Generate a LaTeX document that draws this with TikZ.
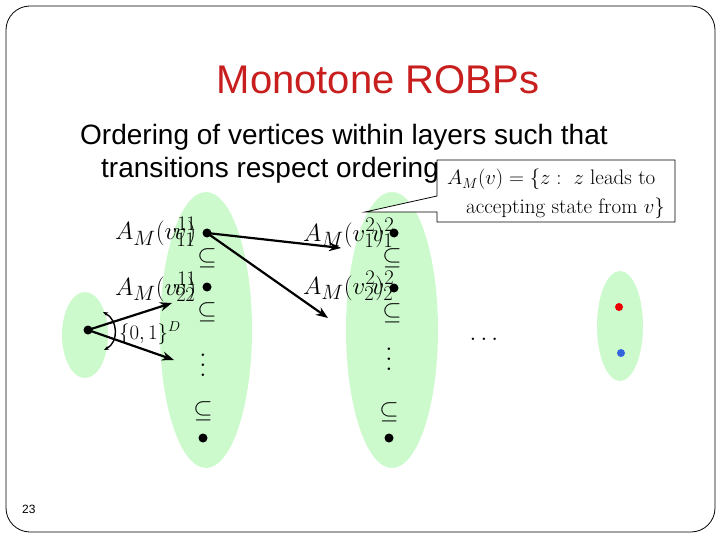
\documentclass[tikz,border=0pt]{standalone}
\usepackage{fontspec}
\usepackage{graphicx}
\newfontfamily\arial{Liberation Sans}
\usetikzlibrary{arrows.meta}
\definecolor{lgreen}{RGB}{204,250,204}
\definecolor{tred}{RGB}{200,30,30}
\definecolor{dblue}{RGB}{50,100,220}
\definecolor{dred}{RGB}{235,0,0}
\newcommand{\ovl}[3]{\rlap{$\hspace{#1}v^{#2}_{#3}$}v^{#2}_{#3}}
\begin{document}
\begin{tikzpicture}[x=1pt,y=-1pt,
  vdot/.style={circle, fill=black, inner sep=0pt, minimum size=9pt},
  cdot/.style={circle, inner sep=0pt, minimum size=8pt},
  mlabel/.style={inner sep=0pt, font=\fontsize{28}{32}\selectfont, anchor=base west},
  msym/.style={inner sep=0pt, font=\fontsize{26}{30}\selectfont},
  arr/.style={-{Stealth[length=12pt,width=9pt]}, line width=2.2pt},
  bodytext/.style={inner sep=0pt, anchor=base west, font=\arial\fontsize{28}{34}\selectfont},
]
\useasboundingbox (0,0) rectangle (720,540);
\draw[rounded corners=24pt, line width=0.8pt] (6,6) rectangle (715,532);

% layers
\fill[lgreen] (85,335) ellipse [x radius=23pt, y radius=43pt];
\fill[lgreen] (206,330) ellipse [x radius=46pt, y radius=138pt];
\fill[lgreen] (392,330) ellipse [x radius=46pt, y radius=138pt];
\fill[lgreen] (620,326) ellipse [x radius=23pt, y radius=55pt];

% title and text
\node[font=\arial\fontsize{40}{48}\selectfont, text=tred, anchor=base, inner sep=0pt] (title) at (378,94) {Monotone ROBPs};
\node[bodytext] (line1) at (80,145) {Ordering of vertices within layers such that};
\node[bodytext] (line2) at (101,178) {transitions respect ordering};
\node[font=\arial\fontsize{12}{14}\selectfont, anchor=base west, inner sep=0pt] (num) at (22,513) {23};

% callout
\draw[fill=white, line width=0.8pt] (437,160) -- (675,160) -- (675,222) -- (437,222) -- (437,212) -- (365,212) -- (437,196) -- cycle;
\node[inner sep=0pt, anchor=base west, font=\fontsize{21}{25}\selectfont] (c1) at (447,185) {$A_M(v) = \{z:\ z$ leads to};
\node[inner sep=0pt, anchor=base east, font=\fontsize{21}{25}\selectfont] (c2) at (665,214) {accepting state from $v\}$};

% vertices
\node[vdot] (s) at (88,330) {};
\node[vdot] (a1) at (207,233) {};
\node[vdot] (a2) at (207,287) {};
\node[vdot] (a3) at (203,438) {};
\node[vdot] (b1) at (394,233) {};
\node[vdot] (b2) at (394,288) {};
\node[vdot] (b3) at (389,438) {};
\node[cdot, fill=dred] (r) at (619,307) {};
\node[cdot, fill=dblue] (u) at (621,353) {};

% labels
\node[mlabel] (la1) at (115,240) {$A_M(\ovl{9pt}{1}{1})$};
\node[mlabel] (la2) at (115,295) {$A_M(\ovl{9pt}{1}{2})$};
\node[mlabel] (lb1) at (303,241) {$A_M(\ovl{19pt}{2}{1})$};
\node[mlabel] (lb2) at (303,294) {$A_M(\ovl{19pt}{2}{2})$};
\node[inner sep=0pt, anchor=base west, font=\fontsize{21}{25}\selectfont] (cube) at (119,339) {$\{0,1\}^D$};

% subset symbols
\node[msym] (sa1) at (207,258) {$\subseteq$};
\node[msym] (sa2) at (207,312) {$\subseteq$};
\node[msym] (sa3) at (203,411) {$\subseteq$};
\node[msym] (sb1) at (392,258) {$\subseteq$};
\node[msym] (sb2) at (392,313) {$\subseteq$};
\node[msym] (sb3) at (389,412) {$\subseteq$};
\node[inner sep=0pt] (da) at (203,358) {\scalebox{2.4}{$\vdots$}};
\node[inner sep=0pt] (db) at (389,352) {\scalebox{2.4}{$\vdots$}};
\node[inner sep=0pt, font=\fontsize{26}{30}\selectfont] (dd) at (484,339) {$\ldots$};

% arrows
\coordinate (t1) at (172,303);
\coordinate (t2) at (174,360);
\coordinate (t3) at (341,248);
\coordinate (t4) at (328,318);
\draw[arr] (s.center) -- (t1);
\draw[arr] (s.center) -- (t2);
\draw[arr] (a1.center) -- (t3);
\draw[arr] (a1.center) -- (t4);

% angle arc
\coordinate (arcA) at (103,312);
\coordinate (arcB) at (104,350);
\draw[{Stealth[length=5pt,width=4pt]}-{Stealth[length=5pt,width=4pt]}, line width=1.4pt] (arcA) .. controls (118,320) and (119,342) .. (arcB);
\end{tikzpicture}
\end{document}
